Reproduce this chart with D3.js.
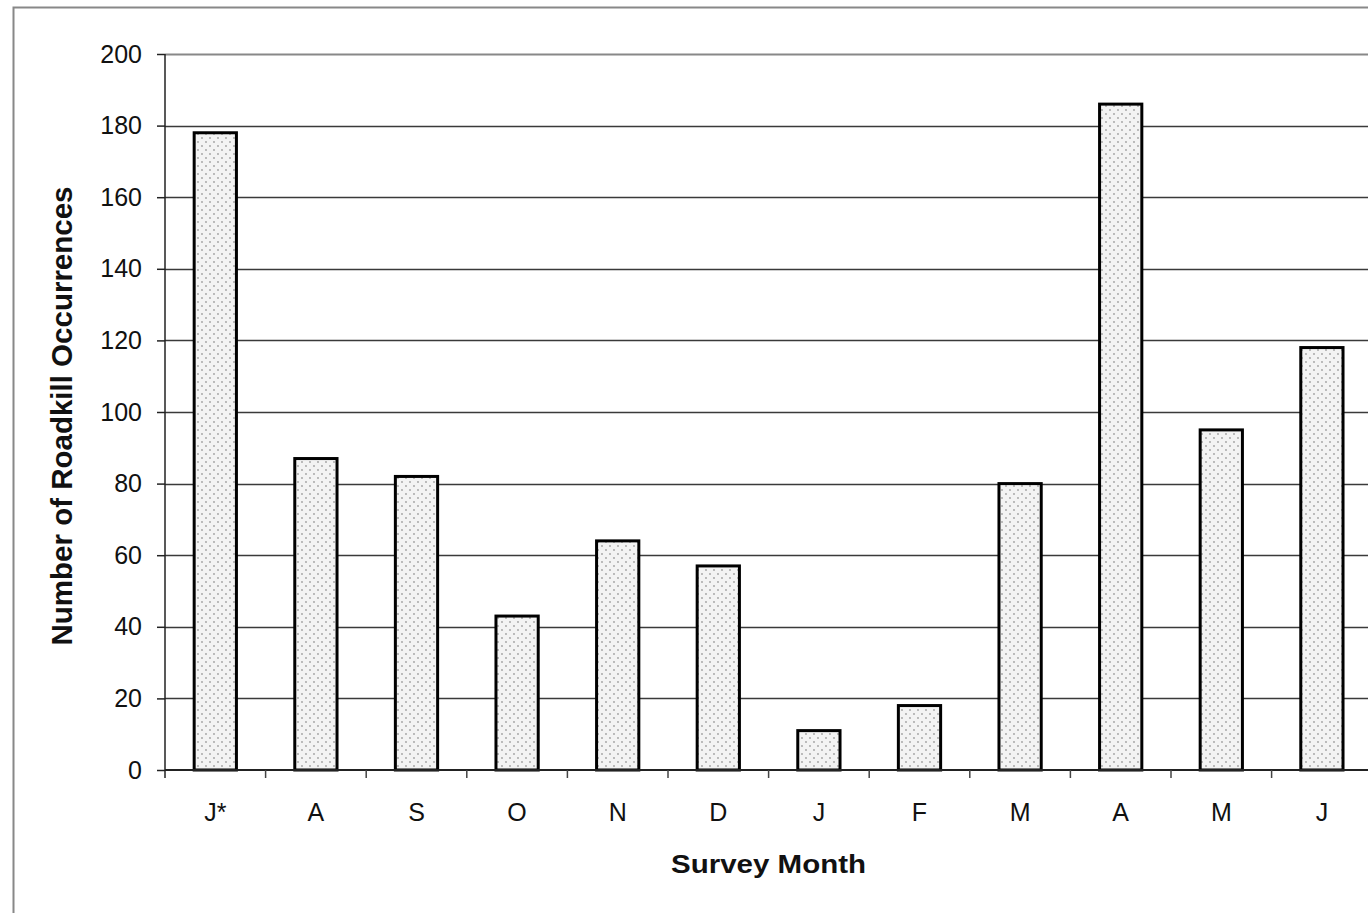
<!DOCTYPE html>
<html><head><meta charset="utf-8">
<script src="https://cdn.jsdelivr.net/npm/d3@7"></script>
<style>body{margin:0;background:#fff}svg{display:block}</style>
</head><body>
<script>
const categories = ["J*","A","S","O","N","D","J","F","M","A","M","J"];
const values = [178,87,82,43,64,57,11,18,80,186,95,118];
const yTicks = [0,20,40,60,80,100,120,140,160,180,200];
const yTitle = "Number of Roadkill Occurrences";
const xTitle = "Survey Month";

const W = 1368, H = 913;
const FONT = "Liberation Sans, Arial, sans-serif";
const svg = d3.select("body").append("svg").attr("width", W).attr("height", H);
const defs = svg.append("defs");
const pat = defs.append("pattern").attr("id","dots").attr("patternUnits","userSpaceOnUse")
  .attr("width",8).attr("height",8);
pat.append("rect").attr("width",8).attr("height",8).attr("fill","#f3f3f3");
pat.append("circle").attr("cx",2).attr("cy",2).attr("r",0.9).attr("fill","#a0a0a0");
pat.append("circle").attr("cx",6).attr("cy",6).attr("r",0.9).attr("fill","#a0a0a0");

// outer border
svg.append("path").attr("d","M13.5,913 V7.5 H1368").attr("fill","none").attr("stroke","#888").attr("stroke-width",2);

const pLeft = 165, pTop = 54, pBottom = 770;
const idx = categories.map((d,i)=>i);
const x = d3.scaleBand().domain(idx).range([pLeft, pLeft + 12*100.6]).paddingInner(0.58).paddingOuter(0.29);
const y = d3.scaleLinear().domain([0,200]).range([pBottom, pTop]);

// gridlines
svg.append("g").selectAll("line").data(yTicks.filter(d=>d>0)).join("line")
  .attr("x1",pLeft).attr("x2",W).attr("y1",d=>Math.round(y(d))+0.5).attr("y2",d=>Math.round(y(d))+0.5)
  .attr("stroke",d=>d===200?"#888":"#3a3a3a").attr("stroke-width",d=>d===200?2:1.3);

// bars
svg.append("g").selectAll("rect").data(values).join("rect")
  .attr("x",(d,i)=>x(i)).attr("width",x.bandwidth())
  .attr("y",d=>y(d)).attr("height",d=>y(0)-y(d))
  .attr("fill","url(#dots)").attr("stroke","#000").attr("stroke-width",3);

// y axis
const yAxis = d3.axisLeft(y).tickValues(yTicks).tickSize(8).tickPadding(15);
const gy = svg.append("g").attr("transform",`translate(${pLeft},0)`).call(yAxis);
gy.select(".domain").attr("stroke","#222").attr("stroke-width",1.5).attr("d",`M0,${pBottom+8}V${pTop}`);
gy.selectAll(".tick line").attr("stroke","#222").attr("stroke-width",1.5);
gy.selectAll("text").attr("font-family",FONT).attr("font-size",25).attr("fill","#111");

// x axis
const xb = d3.scaleLinear().domain([0,12]).range([pLeft, pLeft+12*100.6]);
const gx = svg.append("g").attr("transform",`translate(0,${pBottom})`);
gx.append("line").attr("x1",pLeft).attr("x2",W).attr("y1",0).attr("y2",0).attr("stroke","#222").attr("stroke-width",2);
gx.selectAll("line.t").data(d3.range(1,13)).join("line").attr("class","t")
  .attr("x1",d=>xb(d)).attr("x2",d=>xb(d)).attr("y1",0).attr("y2",8).attr("stroke","#444").attr("stroke-width",1.5);
gx.selectAll("text").data(categories).join("text")
  .attr("x",(d,i)=>x(i)+x.bandwidth()/2).attr("y",51).attr("text-anchor","middle")
  .attr("font-family",FONT).attr("font-size",25).attr("fill","#111").text(d=>d);

// titles
svg.append("text").attr("transform","translate(72,416) rotate(-90)").attr("text-anchor","middle")
  .attr("font-family",FONT).attr("font-weight","bold").attr("font-size",29.5).attr("fill","#111").text(yTitle);
svg.append("text").attr("x",671).attr("y",873)
  .attr("textLength",195).attr("lengthAdjust","spacingAndGlyphs")
  .attr("font-family",FONT).attr("font-weight","bold").attr("font-size",25).attr("fill","#111").text(xTitle);
</script>
</body></html>
